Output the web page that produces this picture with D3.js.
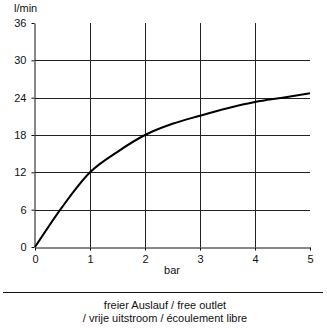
<!DOCTYPE html>
<html>
<head>
<meta charset="utf-8">
<script src="https://cdn.jsdelivr.net/npm/d3@7"></script>
<style>
  body { margin: 0; background: #fff; }
  svg text { font-family: "Liberation Sans Narrow", "Arial Narrow", "Liberation Sans", Arial, sans-serif; fill: #111; }
</style>
</head>
<body>
<svg id="chart" width="327" height="328"></svg>
<script>
// pressure (bar) vs flow (l/min)
var pressure = [0, 0.5, 1, 1.5, 2, 2.5, 3, 3.5, 4, 4.5, 5];
var flow = [0, 6.5, 12, 15.3, 18, 19.8, 21.1, 22.3, 23.3, 24.0, 24.7];
var xTicks = [0, 1, 2, 3, 4, 5];
var yTicks = [0, 6, 12, 18, 24, 30, 36];
var captionLines = ["freier Auslauf / free outlet", "/ vrije uitstroom / écoulement libre"];

var svg = d3.select("#chart");

var x = d3.scaleLinear().domain([0, 5]).range([35, 310]);
var y = d3.scaleLinear().domain([0, 36]).range([247, 23]);

// grid
svg.append("g")
    .selectAll("line")
    .data(yTicks.filter(function (d) { return d > 0 && d < 36; }))
    .enter()
    .append("line")
    .attr("x1", x(0)).attr("x2", x(5))
    .attr("y1", function (d) { return Math.round(y(d)) + 0.5; })
    .attr("y2", function (d) { return Math.round(y(d)) + 0.5; })
    .style("stroke", "#222").style("stroke-width", 1);

svg.append("g")
    .selectAll("line")
    .data(xTicks.filter(function (d) { return d > 0 && d < 5; }))
    .enter()
    .append("line")
    .attr("x1", function (d) { return Math.round(x(d)) + 0.5; })
    .attr("x2", function (d) { return Math.round(x(d)) + 0.5; })
    .attr("y1", y(36)).attr("y2", y(0))
    .style("stroke", "#222").style("stroke-width", 1);

// axes
var xAxis = svg.append("g")
    .attr("transform", "translate(0," + (Math.round(y(0)) + 0.5) + ")")
    .call(d3.axisBottom(x).tickValues(xTicks).tickFormat(d3.format("d"))
        .tickSize(3).tickSizeOuter(0).tickPadding(5));
var yAxis = svg.append("g")
    .attr("transform", "translate(" + (Math.round(x(0)) - 0.5) + ",0)")
    .call(d3.axisLeft(y).tickValues(yTicks).tickFormat(d3.format("d"))
        .tickSize(3).tickSizeOuter(0).tickPadding(5));

[xAxis, yAxis].forEach(function (a) {
    a.select(".domain").style("stroke", "#111");
    a.selectAll(".tick line").style("stroke", "#111");
    a.selectAll("text").style("font-size", "11px")
        .style("font-family", "'Liberation Sans Narrow', 'Arial Narrow', 'Liberation Sans', sans-serif")
        .style("fill", "#111");
});

// curve
var line = d3.line()
    .x(function (d, i) { return x(pressure[i]); })
    .y(function (d) { return y(d); })
    .curve(d3.curveMonotoneX);

svg.append("path")
    .datum(flow)
    .attr("d", line)
    .style("fill", "none")
    .style("stroke", "#000")
    .style("stroke-width", 2);

// labels
svg.append("text")
    .attr("x", 14).attr("y", 12)
    .style("font-size", "11px")
    .text("l/min");

svg.append("text")
    .attr("x", 172).attr("y", 274)
    .attr("text-anchor", "middle")
    .style("font-size", "11px")
    .text("bar");

svg.append("line")
    .attr("x1", 3).attr("x2", 323)
    .attr("y1", 292.5).attr("y2", 292.5)
    .style("stroke", "#111").style("stroke-width", 1);

svg.append("g")
    .selectAll("text")
    .data(captionLines)
    .enter()
    .append("text")
    .attr("x", 165)
    .attr("y", function (d, i) { return 309 + i * 13; })
    .attr("text-anchor", "middle")
    .style("font-size", "11px")
    .text(function (d) { return d; });
</script>
</body>
</html>
